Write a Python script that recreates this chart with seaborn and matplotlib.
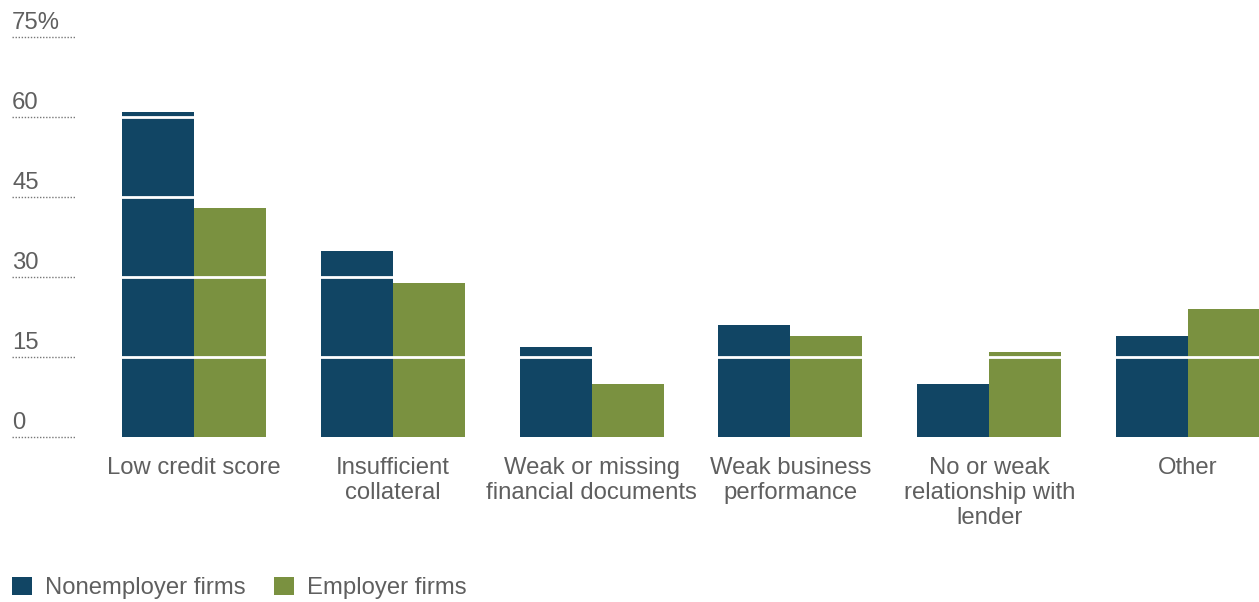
import matplotlib
matplotlib.use("Agg")
import matplotlib.pyplot as plt
import matplotlib.transforms as mtransforms
import seaborn as sns
import pandas as pd

# Reasons for credit denial, share of applicants (%)
reasons = [
    "Low credit score",
    "Insufficient\ncollateral",
    "Weak or missing\nfinancial documents",
    "Weak business\nperformance",
    "No or weak\nrelationship with\nlender",
    "Other",
]
nonemployer = [61, 35, 17, 21, 10, 19]
employer = [43, 29, 10, 19, 16, 24]
series_names = ["Nonemployer firms", "Employer firms"]
y_ticks = [0, 15, 30, 45, 60, 75]
y_tick_labels = ["0", "15", "30", "45", "60", "75%"]

BLUE = "#114564"
GREEN = "#7a9140"
TEXT = "#5f5f5f"
FONT_SIZE = 17.2

sns.set_theme(style="white")
plt.rcParams["font.family"] = ["Liberation Sans", "DejaVu Sans"]

df = pd.DataFrame({
    "reason": reasons * 2,
    "share": nonemployer + employer,
    "firm": [series_names[0]] * len(reasons) + [series_names[1]] * len(reasons),
})

W, H = 1259, 602
fig = plt.figure(figsize=(W / 100, H / 100), dpi=100)
# plot area in pixels: left edge of first slot, baseline and 75% line
left_px, right_px = 94.5, 1287.5
base_px, top_px = 437.3, 37.3
ax = fig.add_axes([left_px / W, (H - base_px) / H,
                   (right_px - left_px) / W, (base_px - top_px) / H])

sns.barplot(data=df, x="reason", y="share", hue="firm",
            palette=[BLUE, GREEN], width=0.724, saturation=1,
            linewidth=0, dodge=True, ax=ax, zorder=2)

ax.set_xlim(-0.5, len(reasons) - 0.5)
ax.set_ylim(0, 75)
for s in ax.spines.values():
    s.set_visible(False)
ax.set_xlabel("")
ax.set_ylabel("")
ax.set_yticks([])
ax.tick_params(axis="x", length=0, pad=14)
ax.set_xticks(range(len(reasons)))
ax.set_xticklabels(reasons, fontsize=FONT_SIZE, color=TEXT, linespacing=1.19)

# white gridlines cut across the bars
for v in y_ticks[1:-1]:
    ax.axhline(v, color="white", lw=2, zorder=3)

# y labels sitting on short dotted rules at the left edge
trans = mtransforms.blended_transform_factory(fig.transFigure, ax.transData)
label_trans = mtransforms.offset_copy(trans, fig=fig, x=0, y=6.3, units="points")
for v, lab in zip(y_ticks, y_tick_labels):
    ax.plot([12 / W, 75 / W], [v, v], transform=trans, clip_on=False,
            color="#777777", lw=1.0, linestyle=(0, (1, 1.2)))
    ax.text(12 / W, v, lab, transform=label_trans, ha="left", va="baseline",
            fontsize=FONT_SIZE, color=TEXT, clip_on=False)

handles, labels = ax.get_legend_handles_labels()
if ax.legend_:
    ax.legend_.remove()
fig.legend(handles, labels, loc="center left",
           bbox_to_anchor=(12 / W, (H - 588) / H), ncol=2, frameon=False,
           fontsize=FONT_SIZE, labelcolor=TEXT, handlelength=0.82,
           handleheight=0.82, handletextpad=0.55, columnspacing=1.2,
           borderpad=0, borderaxespad=0)

fig.savefig("out.png", dpi=100)
